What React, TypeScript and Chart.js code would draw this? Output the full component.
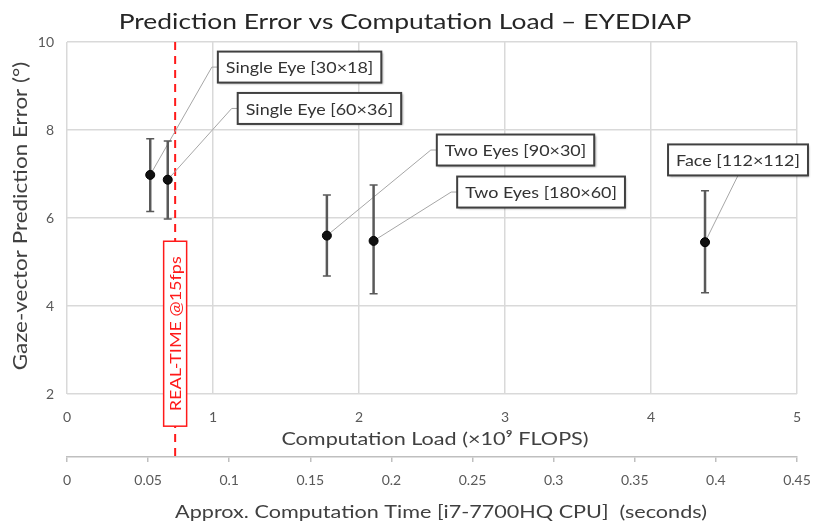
import React, { useEffect, useRef } from 'react';
import { Chart, registerables } from 'chart.js';

Chart.register(...registerables);

// ---- data ----
const MODEL_LABELS = ['Single Eye [30×18]', 'Single Eye [60×36]', 'Two Eyes [90×30]', 'Two Eyes [180×60]', 'Face [112×112]'];
const LOAD_GFLOPS = [0.57, 0.69, 1.78, 2.10, 4.37];
const ERROR_MEAN = [6.98, 6.87, 5.60, 5.48, 5.45];
const ERROR_LOW = [6.15, 5.98, 4.68, 4.28, 4.30];
const ERROR_HIGH = [7.80, 7.75, 6.52, 6.75, 6.62];
// label box centres in data units (x: GFLOPS, y: degrees)
const LABEL_X = [1.593, 1.729, 3.072, 3.247, 4.596];
const LABEL_Y = [9.43, 8.49, 7.545, 6.59, 7.32];
const LABEL_SIDE = ['left', 'left', 'left', 'left', 'bottom'];
const Y_MIN = 2;
const Y_MAX = 10;
const Y_STEP = 2;
const X_MIN = 0;
const X_MAX = 5;
const X_STEP = 1;
const TIME_MIN = 0;
const TIME_MAX = 0.45;
const TIME_STEP = 0.05;
const REALTIME_SECONDS = 1 / 15;
const REALTIME_LABEL = 'REAL-TIME @15fps';
const REALTIME_LABEL_Y = 3.37;
const TITLE = 'Prediction Error vs Computation Load – EYEDIAP';
const Y_TITLE = 'Gaze-vector Prediction Error (°)';
const X_TITLE = 'Computation Load (×10⁹ FLOPS)';
const X2_TITLE = 'Approx. Computation Time [i7-7700HQ CPU]  (seconds)';

const FONT = 'Lato, "Open Sans", sans-serif';
const GRID = '#d9d9d9';
const TICK_COLOR = '#595959';
const TEXT_DARK = '#333333';
const STRETCH = 1.2;
const LABEL_STRETCH = 1.12;

function drawText(ctx: any, text: string, x: number, y: number, size: number, color: string, sx: number, rot = 0) {
  ctx.save();
  ctx.font = `${size}px ${FONT}`;
  ctx.fillStyle = color;
  ctx.textAlign = 'center';
  ctx.textBaseline = 'middle';
  ctx.translate(x, y);
  if (rot) ctx.rotate(rot);
  ctx.scale(sx, 1);
  ctx.fillText(text, 0, 0);
  ctx.restore();
}

function textWidth(ctx: any, text: string, size: number) {
  ctx.save();
  ctx.font = `${size}px ${FONT}`;
  const w = ctx.measureText(text).width;
  ctx.restore();
  return w;
}

const LABEL_SIZE = 16;
const BOX_H = 31;
const BOX_PAD = 8;

const overlayPlugin = {
  id: 'overlay',
  beforeDatasetsDraw(chart: any) {
    const { ctx, scales, chartArea } = chart;
    const x = scales.x;
    const y = scales.y;
    const x2 = scales.x2;
    ctx.save();
    // real-time dashed line
    const rx = x2.getPixelForValue(REALTIME_SECONDS);
    ctx.strokeStyle = '#ff1a1a';
    ctx.lineWidth = 2;
    ctx.setLineDash([8, 6]);
    ctx.beginPath();
    ctx.moveTo(rx, chartArea.top);
    ctx.lineTo(rx, x2.top);
    ctx.stroke();
    ctx.setLineDash([]);

    // leader lines
    ctx.strokeStyle = '#a6a6a6';
    ctx.lineWidth = 1;
    for (let i = 0; i < MODEL_LABELS.length; i++) {
      const px = x.getPixelForValue(LOAD_GFLOPS[i]);
      const py = y.getPixelForValue(ERROR_MEAN[i]);
      const cx = x.getPixelForValue(LABEL_X[i]);
      const cy = y.getPixelForValue(LABEL_Y[i]);
      const w = textWidth(ctx, MODEL_LABELS[i], LABEL_SIZE) * LABEL_STRETCH + BOX_PAD * 2;
      ctx.beginPath();
      if (LABEL_SIDE[i] === 'left') {
        const lx = cx - w / 2;
        ctx.moveTo(px, py);
        ctx.lineTo(lx - 6, cy);
        ctx.lineTo(lx, cy);
      } else {
        ctx.moveTo(px, py);
        ctx.lineTo(cx, cy + BOX_H / 2);
      }
      ctx.stroke();
    }

    // error bars
    ctx.strokeStyle = '#595959';
    for (let i = 0; i < LOAD_GFLOPS.length; i++) {
      const px = x.getPixelForValue(LOAD_GFLOPS[i]);
      const lo = y.getPixelForValue(ERROR_LOW[i]);
      const hi = y.getPixelForValue(ERROR_HIGH[i]);
      ctx.lineWidth = 2.5;
      ctx.beginPath();
      ctx.moveTo(px, lo);
      ctx.lineTo(px, hi);
      ctx.stroke();
      ctx.lineWidth = 1.5;
      ctx.beginPath();
      ctx.moveTo(px - 4, lo);
      ctx.lineTo(px + 4, lo);
      ctx.moveTo(px - 4, hi);
      ctx.lineTo(px + 4, hi);
      ctx.stroke();
    }
    ctx.restore();
  },
  afterDraw(chart: any) {
    const { ctx, scales } = chart;
    const x = scales.x;
    const y = scales.y;
    const x2 = scales.x2;
    ctx.save();
    // titles
    drawText(ctx, TITLE, 405, 22, 22, '#262626', STRETCH);
    drawText(ctx, Y_TITLE, 21, 216, 19, '#404040', 1.18, -Math.PI / 2);
    drawText(ctx, X_TITLE, 435, 439, 18, '#404040', STRETCH);
    drawText(ctx, X2_TITLE, 441, 512, 18, '#404040', STRETCH);

    // label boxes
    for (let i = 0; i < MODEL_LABELS.length; i++) {
      const cx = x.getPixelForValue(LABEL_X[i]);
      const cy = y.getPixelForValue(LABEL_Y[i]);
      const w = textWidth(ctx, MODEL_LABELS[i], LABEL_SIZE) * LABEL_STRETCH + BOX_PAD * 2;
      const h = BOX_H;
      ctx.save();
      ctx.shadowColor = 'rgba(0,0,0,0.35)';
      ctx.shadowOffsetX = 1.5;
      ctx.shadowOffsetY = 1.5;
      ctx.shadowBlur = 2;
      ctx.fillStyle = '#ffffff';
      ctx.fillRect(cx - w / 2, cy - h / 2, w, h);
      ctx.restore();
      ctx.strokeStyle = '#404040';
      ctx.lineWidth = 2;
      ctx.strokeRect(cx - w / 2, cy - h / 2, w, h);
      drawText(ctx, MODEL_LABELS[i], cx, cy + 1, LABEL_SIZE, TEXT_DARK, LABEL_STRETCH);
    }

    // real-time label box
    const rx = x2.getPixelForValue(REALTIME_SECONDS);
    const ry = y.getPixelForValue(REALTIME_LABEL_Y);
    const tw = textWidth(ctx, REALTIME_LABEL, 15) * STRETCH;
    const bh = tw + 30;
    const bw = 23;
    ctx.fillStyle = '#ffffff';
    ctx.fillRect(rx - bw / 2, ry - bh / 2, bw, bh);
    ctx.strokeStyle = '#ff1a1a';
    ctx.lineWidth = 1.5;
    ctx.strokeRect(rx - bw / 2, ry - bh / 2, bw, bh);
    drawText(ctx, REALTIME_LABEL, rx + 1, ry, 15, '#ff1a1a', STRETCH, -Math.PI / 2);
    ctx.restore();
  },
};

export default function App() {
  const ref = useRef<HTMLCanvasElement | null>(null);
  useEffect(() => {
    if (!ref.current) return;
    const chart = new Chart(ref.current, {
      type: 'scatter',
      data: {
        datasets: [
          {
            label: 'Prediction error',
            data: LOAD_GFLOPS.map((v, i) => ({ x: v, y: ERROR_MEAN[i] })),
            backgroundColor: '#111111',
            borderColor: '#000000',
            borderWidth: 1,
            pointRadius: 4.5,
            xAxisID: 'x',
            yAxisID: 'y',
          },
          {
            label: 'time',
            data: [],
            xAxisID: 'x2',
            yAxisID: 'y',
          },
        ],
      },
      options: {
        animation: false,
        responsive: true,
        maintainAspectRatio: false,
        layout: { padding: { top: 42, right: 19, left: 0, bottom: 0 } },
        plugins: {
          legend: { display: false },
          title: { display: false },
          tooltip: { enabled: false },
        },
        scales: {
          y: {
            type: 'linear',
            min: Y_MIN,
            max: Y_MAX,
            ticks: { stepSize: Y_STEP, padding: 13, color: TICK_COLOR, font: { family: FONT, size: 14 } },
            grid: { color: GRID, lineWidth: 1.5, drawTicks: false },
            border: { display: false },
            afterFit: (s: any) => { s.width = 67; s.paddingTop = 0; s.paddingBottom = 0; },
          },
          x: {
            type: 'linear',
            position: 'bottom',
            weight: 0,
            min: X_MIN,
            max: X_MAX,
            ticks: { stepSize: X_STEP, padding: 15, color: TICK_COLOR, font: { family: FONT, size: 14 } },
            grid: { color: GRID, lineWidth: 1.5, drawTicks: false },
            border: { display: false },
            afterFit: (s: any) => { s.height = 63; s.paddingLeft = 0; s.paddingRight = 0; },
          },
          x2: {
            type: 'linear',
            position: 'bottom',
            weight: 1,
            min: TIME_MIN,
            max: TIME_MAX,
            ticks: {
              stepSize: TIME_STEP,
              padding: 10,
              color: TICK_COLOR,
              font: { family: FONT, size: 14 },
              callback: (v: any) => String(Math.round(Number(v) * 100) / 100),
            },
            grid: { drawOnChartArea: false, drawTicks: true, tickLength: 5, color: '#bfbfbf', lineWidth: 1.5 },
            border: { display: true, color: '#bfbfbf', width: 1.5 },
            afterFit: (s: any) => { s.height = 67; s.paddingLeft = 0; s.paddingRight = 0; },
          },
        },
      },
      plugins: [overlayPlugin],
    });
    return () => chart.destroy();
  }, []);
  return (
    <div style={{ position: 'absolute', left: 0, top: 0, width: 816, height: 524 }}>
      <canvas ref={ref} />
    </div>
  );
}
